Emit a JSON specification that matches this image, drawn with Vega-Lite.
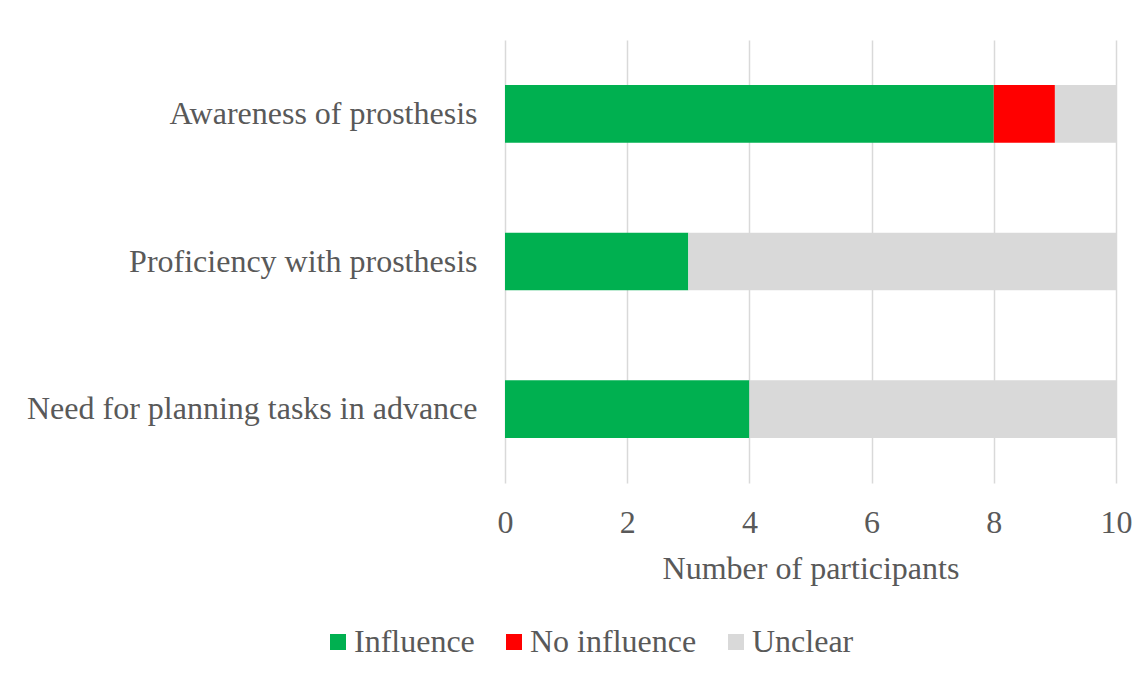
{
  "$schema": "https://vega.github.io/schema/vega-lite/v6.json",
  "autosize": "none",
  "width": 611,
  "height": 443,
  "padding": {"left": 505, "top": 40, "right": 31, "bottom": 192},
  "background": "white",
  "config": {
    "view": {"stroke": null},
    "font": "Liberation Serif"
  },
  "data": {
    "values": [
      {"factor": "Awareness of prosthesis", "response": "Influence", "count": 8},
      {"factor": "Awareness of prosthesis", "response": "No influence", "count": 1},
      {"factor": "Awareness of prosthesis", "response": "Unclear", "count": 1},
      {"factor": "Proficiency with prosthesis", "response": "Influence", "count": 3},
      {"factor": "Proficiency with prosthesis", "response": "No influence", "count": 0},
      {"factor": "Proficiency with prosthesis", "response": "Unclear", "count": 7},
      {"factor": "Need for planning tasks in advance", "response": "Influence", "count": 4},
      {"factor": "Need for planning tasks in advance", "response": "No influence", "count": 0},
      {"factor": "Need for planning tasks in advance", "response": "Unclear", "count": 6}
    ]
  },
  "mark": {"type": "bar"},
  "encoding": {
    "y": {
      "field": "factor",
      "type": "nominal",
      "sort": ["Awareness of prosthesis", "Proficiency with prosthesis", "Need for planning tasks in advance"],
      "scale": {"paddingInner": 0.61, "paddingOuter": 0.305},
      "axis": {
        "title": null,
        "domain": false,
        "ticks": false,
        "labelPadding": 28,
        "labelFont": "Liberation Serif",
        "labelFontSize": 32,
        "labelColor": "#595959",
        "labelLimit": 600
      }
    },
    "x": {
      "field": "count",
      "type": "quantitative",
      "stack": "zero",
      "scale": {"domain": [0, 10], "nice": false},
      "axis": {
        "values": [0, 2, 4, 6, 8, 10],
        "title": "Number of participants",
        "titleFont": "Liberation Serif",
        "titleFontSize": 32,
        "titleFontWeight": "normal",
        "titleColor": "#595959",
        "titlePadding": 15,
        "domain": false,
        "ticks": false,
        "grid": true,
        "gridColor": "#d9d9d9",
        "gridWidth": 1.5,
        "labelPadding": 24,
        "labelFont": "Liberation Serif",
        "labelFontSize": 32,
        "labelColor": "#595959",
        "labelFlush": false
      }
    },
    "color": {
      "field": "response",
      "type": "nominal",
      "scale": {
        "domain": ["Influence", "No influence", "Unclear"],
        "range": ["#00b050", "#ff0000", "#d9d9d9"]
      },
      "legend": {
        "title": null,
        "orient": "none",
        "direction": "horizontal",
        "legendX": -183,
        "legendY": 586,
        "padding": 0,
        "symbolType": "square",
        "symbolSize": 256,
        "symbolStrokeWidth": 0,
        "labelFont": "Liberation Serif",
        "labelFontSize": 32,
        "labelColor": "#595959",
        "labelOffset": 0,
        "labelLimit": 400,
        "columnPadding": 23
      }
    },
    "order": {"field": "response", "type": "nominal"}
  }
}
